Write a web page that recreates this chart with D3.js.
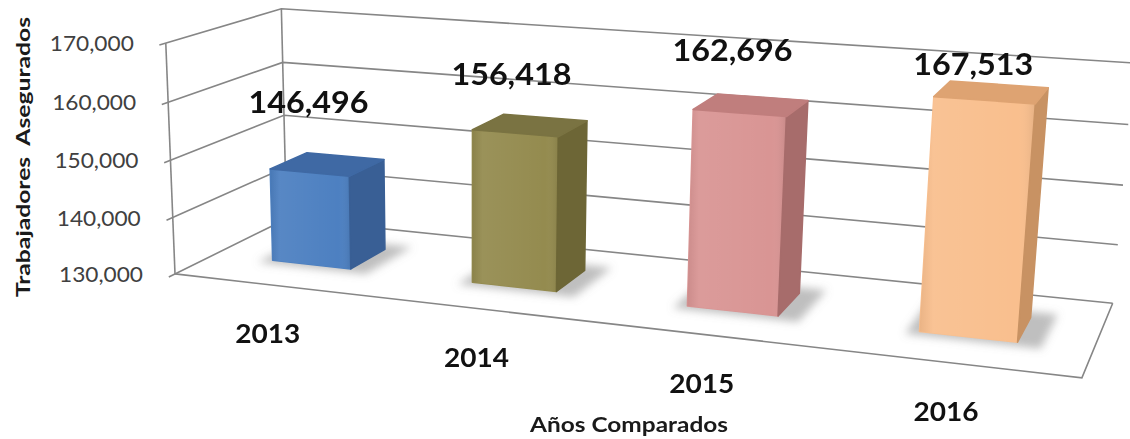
<!DOCTYPE html>
<html>
<head>
<meta charset="utf-8">
<script src="https://cdn.jsdelivr.net/npm/d3@7"></script>
<style>
  html, body { margin: 0; padding: 0; background: #ffffff; }
  svg { display: block; }
  text { font-family: Lato, "Open Sans", "Noto Sans", sans-serif; }
</style>
</head>
<body>
<svg id="chart" width="1130" height="439"></svg>
<script>
// ---- data -------------------------------------------------------------
const categories = ["2013", "2014", "2015", "2016"];
const values = [146496, 156418, 162696, 167513];
const tickValues = [130000, 140000, 150000, 160000, 170000];
const valueDomain = [130000, 170000];
const yTitle = "Trabajadores  Asegurados";
const xTitle = "Años Comparados";

// ---- styling ------------------------------------------------------------
const barColors = [
  { front: "#4d80c1", side: "#395f95", top: "#3f69a4" },
  { front: "#948b4f", side: "#6d6636", top: "#7a7342" },
  { front: "#d99594", side: "#a76c6b", top: "#c07e7d" },
  { front: "#f9bf8e", side: "#c89263", top: "#dea372" }
];
const gridColor = "#868686";
const barDepth = [0.34, 0.68];        // bars occupy the middle of the depth axis
const labelLift = [52, 41, 44, 18];   // px above the top face for the value labels

// Plot box in world units (x: category axis, y: value axis, z: depth 0 = front)
// and the screen points the box corners are pinned to.
const boxAnchors = [
  [[0, 0, 0], [178, 273]],
  [[0, 0.25, 0], [173, 217]],
  [[0, 0.5, 0], [170, 162]],
  [[0, 0.75, 0], [166, 102]],
  [[0, 1, 0], [165, 43]],
  [[0, 0, 1], [284, 219]],
  [[0, 0.25, 1], [284, 167]],
  [[0, 0.5, 1], [285, 117]],
  [[0, 0.75, 1], [284, 62]],
  [[0, 1, 1], [283, 8]],
  [[1, 0, 1], [1113, 303]],
  [[1, 0.25, 1], [1118, 245]],
  [[1, 0.5, 1], [1123, 185]],
  [[1, 1, 1], [1133, 63]],
  [[1, 0, 0], [1082, 378]]
];

// ---- perspective camera (least-squares DLT fit of a 3x4 projection) -----
function solveLinear(M, r) {
  const n = r.length;
  const a = M.map((row, i) => row.concat([r[i]]));
  for (let c = 0; c < n; c++) {
    let p = c;
    for (let i = c + 1; i < n; i++) if (Math.abs(a[i][c]) > Math.abs(a[p][c])) p = i;
    [a[c], a[p]] = [a[p], a[c]];
    for (let i = c + 1; i < n; i++) {
      const f = a[i][c] / a[c][c];
      for (let j = c; j <= n; j++) a[i][j] -= f * a[c][j];
    }
  }
  const x = new Array(n).fill(0);
  for (let i = n - 1; i >= 0; i--) {
    let s = a[i][n];
    for (let j = i + 1; j < n; j++) s -= a[i][j] * x[j];
    x[i] = s / a[i][i];
  }
  return x;
}

function fitCamera(anchors) {
  const S = 100;
  const A = [], b = [];
  anchors.forEach(([[X, Y, Z], [u0, v0]]) => {
    const u = u0 / S, v = v0 / S;
    A.push([X, Y, Z, 1, 0, 0, 0, 0, -u * X, -u * Y, -u * Z]); b.push(u);
    A.push([0, 0, 0, 0, X, Y, Z, 1, -v * X, -v * Y, -v * Z]); b.push(v);
  });
  const n = 11;
  const N = Array.from({ length: n }, () => new Array(n).fill(0));
  const r = new Array(n).fill(0);
  A.forEach((row, k) => {
    for (let i = 0; i < n; i++) {
      r[i] += row[i] * b[k];
      for (let j = 0; j < n; j++) N[i][j] += row[i] * row[j];
    }
  });
  const p = solveLinear(N, r);
  return ([X, Y, Z]) => {
    const w = p[8] * X + p[9] * Y + p[10] * Z + 1;
    return [
      S * (p[0] * X + p[1] * Y + p[2] * Z + p[3]) / w,
      S * (p[4] * X + p[5] * Y + p[6] * Z + p[7]) / w
    ];
  };
}

const project = fitCamera(boxAnchors);

// ---- scales -------------------------------------------------------------
const x = d3.scaleBand().domain(categories).range([0, 1])
  .paddingInner(0.6).paddingOuter(0.3);
const y = d3.scaleLinear().domain(valueDomain).range([0, 1]);
const fmt = d3.format(",");

const svg = d3.select("#chart");
const path = pts => d3.line()(pts.map(project));
const poly = pts => path(pts) + "Z";

const defs = svg.append("defs");
defs.append("filter").attr("id", "soft")
  .attr("x", "-30%").attr("y", "-30%").attr("width", "160%").attr("height", "160%")
  .append("feGaussianBlur").attr("stdDeviation", 4);

// ---- walls & floor --------------------------------------------------------
const grid = svg.append("g")
  .attr("fill", "none").attr("stroke", gridColor).attr("stroke-width", 1.6);

grid.selectAll("path.gridline").data(tickValues).join("path")
  .attr("class", "gridline")
  .attr("d", t => path([[0, y(t), -0.05], [0, y(t), 1], [1, y(t), 1]]));

grid.append("path").attr("d", path([[0, 0, 0], [0, 1, 0]]));
grid.append("path").attr("d", path([[0, 0, 1], [0, 1, 1]]));
grid.append("path").attr("d", path([[0, 0, 0], [1, 0, 0], [1, 0, 1]]));

// ---- value axis labels ----------------------------------------------------
svg.append("g").selectAll("text").data(tickValues).join("text")
  .attr("x", t => project([0, y(t), 0])[0] - 116)
  .attr("y", t => project([0, y(t), 0])[1] + 8)
  .attr("font-size", 21)
  .attr("fill", "#404040")
  .attr("textLength", 84).attr("lengthAdjust", "spacingAndGlyphs")
  .text(t => fmt(t));

// ---- bars -----------------------------------------------------------------
const rows = categories.map((c, i) => ({ cat: c, value: values[i], color: barColors[i], lift: labelLift[i] }));
const [z0, z1] = barDepth;

function faces(d) {
  const x0 = x(d.cat), x1 = x0 + x.bandwidth(), h = y(d.value);
  return [
    { key: "front", pts: [[x0, 0, z0], [x1, 0, z0], [x1, h, z0], [x0, h, z0]] },
    { key: "side",  pts: [[x1, 0, z0], [x1, 0, z1], [x1, h, z1], [x1, h, z0]] },
    { key: "side",  pts: [[x0, 0, z1], [x0, 0, z0], [x0, h, z0], [x0, h, z1]] },
    { key: "top",   pts: [[x0, h, z0], [x1, h, z0], [x1, h, z1], [x0, h, z1]] }
  ].filter(f => {
    const s = f.pts.map(project);
    let a = 0;
    for (let i = 0; i < s.length; i++) {
      const [ax, ay] = s[i], [bx, by] = s[(i + 1) % s.length];
      a += ax * by - bx * ay;
    }
    return a < 0;
  });
}

// soft shadows on the floor
svg.append("g").attr("filter", "url(#soft)")
  .selectAll("path").data(rows).join("path")
  .attr("fill", "#808080").attr("opacity", 0.5)
  .attr("d", d => {
    const x0 = x(d.cat) - 0.012, x1 = x(d.cat) + x.bandwidth() + 0.025;
    return poly([[x0, 0, z0 - 0.05], [x1, 0, z0 - 0.05], [x1, 0, z1 + 0.08], [x0, 0, z1 + 0.08]]);
  });

// face shading
const shade = defs.append("linearGradient").attr("id", "frontShade")
  .attr("x1", 0).attr("y1", 0).attr("x2", 1).attr("y2", 0);
shade.append("stop").attr("offset", 0).attr("stop-color", "#000").attr("stop-opacity", 0.06);
shade.append("stop").attr("offset", 0.12).attr("stop-color", "#fff").attr("stop-opacity", 0.06);
shade.append("stop").attr("offset", 0.85).attr("stop-color", "#fff").attr("stop-opacity", 0);
shade.append("stop").attr("offset", 1).attr("stop-color", "#000").attr("stop-opacity", 0.08);

const bars = svg.append("g").selectAll("g").data(rows).join("g");
bars.each(function (d) {
  const g = d3.select(this);
  faces(d).forEach(f => {
    g.append("path").attr("d", poly(f.pts))
      .attr("fill", d.color[f.key])
      .attr("stroke", d.color[f.key]).attr("stroke-width", 1.5)
      .attr("stroke-linejoin", "round");
    if (f.key === "front") {
      g.append("path").attr("d", poly(f.pts)).attr("fill", "url(#frontShade)");
    }
  });
});

// value labels above the bars
svg.append("g").selectAll("text").data(rows).join("text")
  .attr("x", d => project([x(d.cat) + x.bandwidth() / 2, y(d.value), 0.5])[0] - 18)
  .attr("y", d => project([x(d.cat) + x.bandwidth() / 2, y(d.value), 0.5])[1] - d.lift)
  .attr("text-anchor", "middle")
  .attr("font-size", 30).attr("font-weight", 700).attr("fill", "#111")
  .attr("textLength", 120).attr("lengthAdjust", "spacingAndGlyphs")
  .text(d => fmt(d.value));

// category labels in front of the floor
svg.append("g").selectAll("text").data(categories).join("text")
  .attr("x", c => project([x(c) + x.bandwidth() / 2, 0, 0])[0] - 6)
  .attr("y", c => project([x(c) + x.bandwidth() / 2, 0, 0])[1] + 58)
  .attr("text-anchor", "middle")
  .attr("font-size", 27).attr("font-weight", 700).attr("fill", "#111")
  .attr("textLength", 65).attr("lengthAdjust", "spacingAndGlyphs")
  .text(c => c);

// axis titles
svg.append("text")
  .attr("x", 629).attr("y", 432)
  .attr("text-anchor", "middle")
  .attr("font-size", 20).attr("font-weight", 700).attr("fill", "#1a1a1a")
  .attr("textLength", 198).attr("lengthAdjust", "spacingAndGlyphs")
  .text(xTitle);

svg.append("text")
  .attr("transform", "translate(30,157) rotate(-90)")
  .attr("text-anchor", "middle")
  .style("white-space", "pre")
  .attr("font-size", 19).attr("font-weight", 700).attr("fill", "#1a1a1a")
  .attr("textLength", 280).attr("lengthAdjust", "spacingAndGlyphs")
  .text(yTitle);
</script>
</body>
</html>
